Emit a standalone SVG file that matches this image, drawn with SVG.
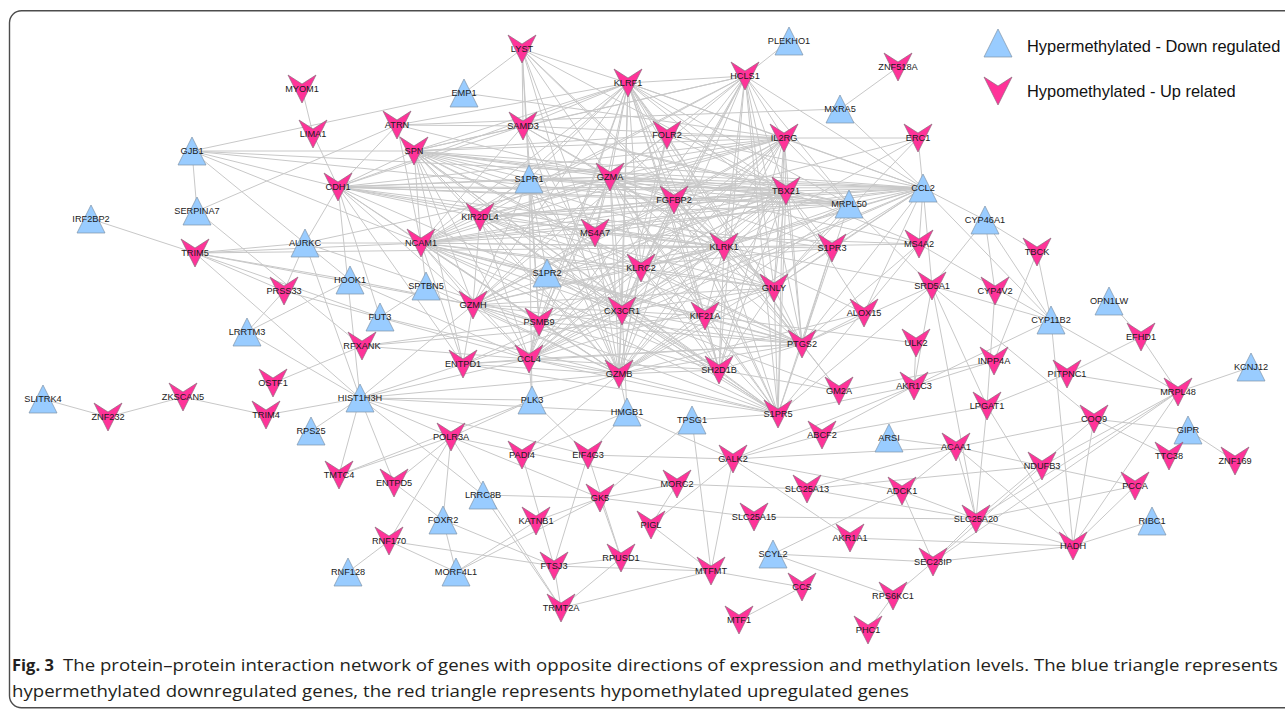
<svg xmlns="http://www.w3.org/2000/svg" width="1285" height="713" viewBox="0 0 1285 713">
<style>
.frame{fill:none;stroke:#4d4d4d;stroke-width:1.4}
#edges line{stroke:#c8c8c8;stroke-width:1;fill:none}
.hyper use{fill:#99CCFF;stroke:#7f93a8;stroke-width:.7}
.hypo use{fill:#FF3399;stroke:#8c6a7c;stroke-width:.7}
.lbl{font-family:"Liberation Sans",Arial,sans-serif;font-size:9.2px;text-anchor:middle;fill:#1a1a1a}
.leg{font-family:"Liberation Sans",Arial,sans-serif;font-size:16.4px;fill:#111}
.cap{font-family:"Open Sans","Liberation Sans",sans-serif;font-size:16.5px;fill:#231f20}
.capb{font-family:"Open Sans","Liberation Sans",sans-serif;font-size:16.5px;font-weight:bold;fill:#231f20}
</style>
<defs>
<polygon id="tri" points="0,-14 14,14 -14,14"/>
<polygon id="vee" points="-14,-14 0,-5 14,-14 0,14"/>
</defs>
<rect x="0" y="0" width="1285" height="713" fill="#ffffff"/>
<rect class="frame" x="9.5" y="10.7" width="1300" height="697" rx="12"/>
<g id="edges">
<line x1="628" y1="83" x2="745" y2="76"/><line x1="628" y1="83" x2="784" y2="138"/><line x1="628" y1="83" x2="786" y2="191"/><line x1="628" y1="83" x2="610" y2="177"/><line x1="628" y1="83" x2="674" y2="200"/><line x1="628" y1="83" x2="414" y2="151"/><line x1="628" y1="83" x2="421" y2="243"/><line x1="628" y1="83" x2="480" y2="217"/><line x1="628" y1="83" x2="724" y2="247"/><line x1="628" y1="83" x2="641" y2="268"/><line x1="628" y1="83" x2="774" y2="288"/><line x1="628" y1="83" x2="473" y2="305"/><line x1="628" y1="83" x2="622" y2="311"/><line x1="628" y1="83" x2="529" y2="359"/><line x1="628" y1="83" x2="619" y2="374"/><line x1="628" y1="83" x2="719" y2="370"/><line x1="628" y1="83" x2="802" y2="344"/><line x1="628" y1="83" x2="778" y2="414"/>
<line x1="745" y1="76" x2="784" y2="138"/><line x1="745" y1="76" x2="786" y2="191"/><line x1="745" y1="76" x2="610" y2="177"/><line x1="745" y1="76" x2="674" y2="200"/><line x1="745" y1="76" x2="414" y2="151"/><line x1="745" y1="76" x2="421" y2="243"/><line x1="745" y1="76" x2="480" y2="217"/><line x1="745" y1="76" x2="724" y2="247"/><line x1="745" y1="76" x2="641" y2="268"/><line x1="745" y1="76" x2="774" y2="288"/><line x1="745" y1="76" x2="473" y2="305"/><line x1="745" y1="76" x2="622" y2="311"/><line x1="745" y1="76" x2="529" y2="359"/><line x1="745" y1="76" x2="619" y2="374"/><line x1="745" y1="76" x2="719" y2="370"/><line x1="745" y1="76" x2="802" y2="344"/><line x1="745" y1="76" x2="778" y2="414"/>
<line x1="784" y1="138" x2="786" y2="191"/><line x1="784" y1="138" x2="610" y2="177"/><line x1="784" y1="138" x2="674" y2="200"/><line x1="784" y1="138" x2="414" y2="151"/><line x1="784" y1="138" x2="421" y2="243"/><line x1="784" y1="138" x2="480" y2="217"/><line x1="784" y1="138" x2="724" y2="247"/><line x1="784" y1="138" x2="641" y2="268"/><line x1="784" y1="138" x2="774" y2="288"/><line x1="784" y1="138" x2="473" y2="305"/><line x1="784" y1="138" x2="622" y2="311"/><line x1="784" y1="138" x2="529" y2="359"/><line x1="784" y1="138" x2="619" y2="374"/><line x1="784" y1="138" x2="719" y2="370"/><line x1="784" y1="138" x2="802" y2="344"/><line x1="784" y1="138" x2="778" y2="414"/>
<line x1="786" y1="191" x2="610" y2="177"/><line x1="786" y1="191" x2="674" y2="200"/><line x1="786" y1="191" x2="414" y2="151"/><line x1="786" y1="191" x2="421" y2="243"/><line x1="786" y1="191" x2="480" y2="217"/><line x1="786" y1="191" x2="724" y2="247"/><line x1="786" y1="191" x2="641" y2="268"/><line x1="786" y1="191" x2="774" y2="288"/><line x1="786" y1="191" x2="473" y2="305"/><line x1="786" y1="191" x2="622" y2="311"/><line x1="786" y1="191" x2="529" y2="359"/><line x1="786" y1="191" x2="619" y2="374"/><line x1="786" y1="191" x2="719" y2="370"/><line x1="786" y1="191" x2="802" y2="344"/><line x1="786" y1="191" x2="778" y2="414"/>
<line x1="610" y1="177" x2="674" y2="200"/><line x1="610" y1="177" x2="414" y2="151"/><line x1="610" y1="177" x2="421" y2="243"/><line x1="610" y1="177" x2="480" y2="217"/><line x1="610" y1="177" x2="724" y2="247"/><line x1="610" y1="177" x2="641" y2="268"/><line x1="610" y1="177" x2="774" y2="288"/><line x1="610" y1="177" x2="473" y2="305"/><line x1="610" y1="177" x2="622" y2="311"/><line x1="610" y1="177" x2="529" y2="359"/><line x1="610" y1="177" x2="619" y2="374"/><line x1="610" y1="177" x2="719" y2="370"/><line x1="610" y1="177" x2="802" y2="344"/><line x1="610" y1="177" x2="778" y2="414"/>
<line x1="674" y1="200" x2="414" y2="151"/><line x1="674" y1="200" x2="421" y2="243"/><line x1="674" y1="200" x2="480" y2="217"/><line x1="674" y1="200" x2="724" y2="247"/><line x1="674" y1="200" x2="641" y2="268"/><line x1="674" y1="200" x2="774" y2="288"/><line x1="674" y1="200" x2="473" y2="305"/><line x1="674" y1="200" x2="622" y2="311"/><line x1="674" y1="200" x2="529" y2="359"/><line x1="674" y1="200" x2="619" y2="374"/><line x1="674" y1="200" x2="719" y2="370"/><line x1="674" y1="200" x2="802" y2="344"/><line x1="674" y1="200" x2="778" y2="414"/>
<line x1="414" y1="151" x2="421" y2="243"/><line x1="414" y1="151" x2="480" y2="217"/><line x1="414" y1="151" x2="724" y2="247"/><line x1="414" y1="151" x2="641" y2="268"/><line x1="414" y1="151" x2="774" y2="288"/><line x1="414" y1="151" x2="473" y2="305"/><line x1="414" y1="151" x2="622" y2="311"/><line x1="414" y1="151" x2="529" y2="359"/><line x1="414" y1="151" x2="619" y2="374"/><line x1="414" y1="151" x2="719" y2="370"/><line x1="414" y1="151" x2="802" y2="344"/><line x1="414" y1="151" x2="778" y2="414"/>
<line x1="421" y1="243" x2="480" y2="217"/><line x1="421" y1="243" x2="724" y2="247"/><line x1="421" y1="243" x2="641" y2="268"/><line x1="421" y1="243" x2="774" y2="288"/><line x1="421" y1="243" x2="473" y2="305"/><line x1="421" y1="243" x2="622" y2="311"/><line x1="421" y1="243" x2="529" y2="359"/><line x1="421" y1="243" x2="619" y2="374"/><line x1="421" y1="243" x2="719" y2="370"/><line x1="421" y1="243" x2="802" y2="344"/><line x1="421" y1="243" x2="778" y2="414"/>
<line x1="480" y1="217" x2="724" y2="247"/><line x1="480" y1="217" x2="641" y2="268"/><line x1="480" y1="217" x2="774" y2="288"/><line x1="480" y1="217" x2="473" y2="305"/><line x1="480" y1="217" x2="622" y2="311"/><line x1="480" y1="217" x2="529" y2="359"/><line x1="480" y1="217" x2="619" y2="374"/><line x1="480" y1="217" x2="719" y2="370"/><line x1="480" y1="217" x2="802" y2="344"/><line x1="480" y1="217" x2="778" y2="414"/>
<line x1="724" y1="247" x2="641" y2="268"/><line x1="724" y1="247" x2="774" y2="288"/><line x1="724" y1="247" x2="473" y2="305"/><line x1="724" y1="247" x2="622" y2="311"/><line x1="724" y1="247" x2="529" y2="359"/><line x1="724" y1="247" x2="619" y2="374"/><line x1="724" y1="247" x2="719" y2="370"/><line x1="724" y1="247" x2="802" y2="344"/><line x1="724" y1="247" x2="778" y2="414"/>
<line x1="641" y1="268" x2="774" y2="288"/><line x1="641" y1="268" x2="473" y2="305"/><line x1="641" y1="268" x2="622" y2="311"/><line x1="641" y1="268" x2="529" y2="359"/><line x1="641" y1="268" x2="619" y2="374"/><line x1="641" y1="268" x2="719" y2="370"/><line x1="641" y1="268" x2="802" y2="344"/><line x1="641" y1="268" x2="778" y2="414"/>
<line x1="774" y1="288" x2="473" y2="305"/><line x1="774" y1="288" x2="622" y2="311"/><line x1="774" y1="288" x2="529" y2="359"/><line x1="774" y1="288" x2="619" y2="374"/><line x1="774" y1="288" x2="719" y2="370"/><line x1="774" y1="288" x2="802" y2="344"/><line x1="774" y1="288" x2="778" y2="414"/>
<line x1="473" y1="305" x2="622" y2="311"/><line x1="473" y1="305" x2="529" y2="359"/><line x1="473" y1="305" x2="619" y2="374"/><line x1="473" y1="305" x2="719" y2="370"/><line x1="473" y1="305" x2="802" y2="344"/><line x1="473" y1="305" x2="778" y2="414"/>
<line x1="622" y1="311" x2="529" y2="359"/><line x1="622" y1="311" x2="619" y2="374"/><line x1="622" y1="311" x2="719" y2="370"/><line x1="622" y1="311" x2="802" y2="344"/><line x1="622" y1="311" x2="778" y2="414"/>
<line x1="529" y1="359" x2="619" y2="374"/><line x1="529" y1="359" x2="719" y2="370"/><line x1="529" y1="359" x2="802" y2="344"/><line x1="529" y1="359" x2="778" y2="414"/>
<line x1="619" y1="374" x2="719" y2="370"/><line x1="619" y1="374" x2="802" y2="344"/><line x1="619" y1="374" x2="778" y2="414"/>
<line x1="719" y1="370" x2="802" y2="344"/><line x1="719" y1="370" x2="778" y2="414"/><line x1="802" y1="344" x2="778" y2="414"/>
<line x1="923" y1="188" x2="628" y2="83"/><line x1="923" y1="188" x2="745" y2="76"/><line x1="923" y1="188" x2="784" y2="138"/><line x1="923" y1="188" x2="786" y2="191"/><line x1="923" y1="188" x2="610" y2="177"/><line x1="923" y1="188" x2="674" y2="200"/><line x1="923" y1="188" x2="414" y2="151"/><line x1="923" y1="188" x2="421" y2="243"/><line x1="923" y1="188" x2="480" y2="217"/><line x1="923" y1="188" x2="724" y2="247"/><line x1="923" y1="188" x2="641" y2="268"/><line x1="923" y1="188" x2="774" y2="288"/><line x1="923" y1="188" x2="622" y2="311"/><line x1="923" y1="188" x2="529" y2="359"/><line x1="923" y1="188" x2="619" y2="374"/><line x1="923" y1="188" x2="802" y2="344"/><line x1="923" y1="188" x2="529" y2="179"/><line x1="923" y1="188" x2="338" y2="187"/><line x1="923" y1="188" x2="667" y2="135"/><line x1="923" y1="188" x2="849" y2="204"/><line x1="923" y1="188" x2="918" y2="138"/><line x1="923" y1="188" x2="985" y2="220"/><line x1="923" y1="188" x2="1051" y2="320"/><line x1="923" y1="188" x2="919" y2="244"/><line x1="923" y1="188" x2="832" y2="248"/><line x1="923" y1="188" x2="840" y2="109"/><line x1="923" y1="188" x2="864" y2="313"/><line x1="923" y1="188" x2="932" y2="286"/><line x1="923" y1="188" x2="595" y2="233"/>
<line x1="849" y1="204" x2="628" y2="83"/><line x1="849" y1="204" x2="745" y2="76"/><line x1="849" y1="204" x2="784" y2="138"/><line x1="849" y1="204" x2="786" y2="191"/><line x1="849" y1="204" x2="610" y2="177"/><line x1="849" y1="204" x2="674" y2="200"/><line x1="849" y1="204" x2="414" y2="151"/><line x1="849" y1="204" x2="421" y2="243"/><line x1="849" y1="204" x2="480" y2="217"/><line x1="849" y1="204" x2="724" y2="247"/><line x1="849" y1="204" x2="622" y2="311"/><line x1="849" y1="204" x2="619" y2="374"/><line x1="849" y1="204" x2="338" y2="187"/><line x1="849" y1="204" x2="529" y2="179"/><line x1="849" y1="204" x2="523" y2="126"/><line x1="849" y1="204" x2="774" y2="288"/><line x1="849" y1="204" x2="802" y2="344"/>
<line x1="338" y1="187" x2="414" y2="151"/><line x1="338" y1="187" x2="421" y2="243"/><line x1="338" y1="187" x2="610" y2="177"/><line x1="338" y1="187" x2="529" y2="179"/><line x1="338" y1="187" x2="786" y2="191"/><line x1="338" y1="187" x2="784" y2="138"/><line x1="338" y1="187" x2="480" y2="217"/><line x1="338" y1="187" x2="674" y2="200"/><line x1="338" y1="187" x2="724" y2="247"/><line x1="338" y1="187" x2="595" y2="233"/><line x1="338" y1="187" x2="622" y2="311"/><line x1="338" y1="187" x2="360" y2="398"/><line x1="338" y1="187" x2="305" y2="243"/><line x1="338" y1="187" x2="380" y2="317"/><line x1="338" y1="187" x2="619" y2="374"/><line x1="338" y1="187" x2="463" y2="364"/><line x1="338" y1="187" x2="473" y2="305"/><line x1="338" y1="187" x2="313" y2="134"/><line x1="338" y1="187" x2="397" y2="125"/><line x1="338" y1="187" x2="192" y2="151"/><line x1="338" y1="187" x2="628" y2="83"/><line x1="338" y1="187" x2="832" y2="248"/><line x1="338" y1="187" x2="523" y2="126"/>
<line x1="522" y1="49" x2="464" y2="93"/><line x1="522" y1="49" x2="523" y2="126"/><line x1="522" y1="49" x2="628" y2="83"/><line x1="522" y1="49" x2="610" y2="177"/><line x1="522" y1="49" x2="622" y2="311"/><line x1="522" y1="49" x2="619" y2="374"/><line x1="522" y1="49" x2="724" y2="247"/><line x1="522" y1="49" x2="539" y2="322"/><line x1="522" y1="49" x2="774" y2="288"/><line x1="522" y1="49" x2="786" y2="191"/><line x1="522" y1="49" x2="529" y2="179"/>
<line x1="523" y1="126" x2="397" y2="125"/><line x1="523" y1="126" x2="414" y2="151"/><line x1="523" y1="126" x2="628" y2="83"/><line x1="523" y1="126" x2="610" y2="177"/><line x1="523" y1="126" x2="786" y2="191"/><line x1="523" y1="126" x2="622" y2="311"/><line x1="523" y1="126" x2="619" y2="374"/><line x1="523" y1="126" x2="784" y2="138"/><line x1="523" y1="126" x2="421" y2="243"/><line x1="523" y1="126" x2="724" y2="247"/><line x1="523" y1="126" x2="745" y2="76"/>
<line x1="529" y1="179" x2="610" y2="177"/><line x1="529" y1="179" x2="547" y2="273"/><line x1="529" y1="179" x2="622" y2="311"/><line x1="529" y1="179" x2="786" y2="191"/><line x1="529" y1="179" x2="619" y2="374"/><line x1="529" y1="179" x2="539" y2="322"/><line x1="529" y1="179" x2="421" y2="243"/><line x1="529" y1="179" x2="414" y2="151"/><line x1="529" y1="179" x2="532" y2="400"/><line x1="529" y1="179" x2="628" y2="83"/><line x1="529" y1="179" x2="473" y2="305"/><line x1="529" y1="179" x2="784" y2="138"/>
<line x1="547" y1="273" x2="832" y2="248"/><line x1="547" y1="273" x2="778" y2="414"/><line x1="547" y1="273" x2="622" y2="311"/><line x1="547" y1="273" x2="421" y2="243"/><line x1="547" y1="273" x2="619" y2="374"/><line x1="547" y1="273" x2="802" y2="344"/><line x1="547" y1="273" x2="529" y2="359"/><line x1="547" y1="273" x2="724" y2="247"/><line x1="547" y1="273" x2="786" y2="191"/>
<line x1="595" y1="233" x2="610" y2="177"/><line x1="595" y1="233" x2="622" y2="311"/><line x1="595" y1="233" x2="724" y2="247"/><line x1="595" y1="233" x2="919" y2="244"/><line x1="595" y1="233" x2="786" y2="191"/><line x1="595" y1="233" x2="421" y2="243"/><line x1="595" y1="233" x2="619" y2="374"/><line x1="595" y1="233" x2="628" y2="83"/><line x1="595" y1="233" x2="473" y2="305"/>
<line x1="539" y1="322" x2="610" y2="177"/><line x1="539" y1="322" x2="529" y2="359"/><line x1="539" y1="322" x2="619" y2="374"/><line x1="539" y1="322" x2="622" y2="311"/><line x1="539" y1="322" x2="421" y2="243"/><line x1="539" y1="322" x2="802" y2="344"/><line x1="539" y1="322" x2="786" y2="191"/><line x1="539" y1="322" x2="784" y2="138"/><line x1="539" y1="322" x2="628" y2="83"/><line x1="539" y1="322" x2="473" y2="305"/>
<line x1="705" y1="316" x2="619" y2="374"/><line x1="705" y1="316" x2="622" y2="311"/><line x1="705" y1="316" x2="628" y2="83"/><line x1="705" y1="316" x2="421" y2="243"/><line x1="705" y1="316" x2="786" y2="191"/><line x1="705" y1="316" x2="719" y2="370"/><line x1="705" y1="316" x2="778" y2="414"/><line x1="705" y1="316" x2="610" y2="177"/><line x1="705" y1="316" x2="724" y2="247"/><line x1="705" y1="316" x2="916" y2="343"/>
<line x1="667" y1="135" x2="610" y2="177"/><line x1="667" y1="135" x2="786" y2="191"/><line x1="667" y1="135" x2="619" y2="374"/><line x1="667" y1="135" x2="622" y2="311"/><line x1="667" y1="135" x2="414" y2="151"/><line x1="667" y1="135" x2="802" y2="344"/><line x1="667" y1="135" x2="628" y2="83"/><line x1="667" y1="135" x2="784" y2="138"/>
<line x1="397" y1="125" x2="197" y2="211"/><line x1="397" y1="125" x2="840" y2="109"/><line x1="397" y1="125" x2="610" y2="177"/><line x1="397" y1="125" x2="628" y2="83"/><line x1="397" y1="125" x2="421" y2="243"/>
<line x1="464" y1="93" x2="192" y2="151"/><line x1="464" y1="93" x2="784" y2="138"/>
<line x1="463" y1="364" x2="421" y2="243"/><line x1="463" y1="364" x2="473" y2="305"/><line x1="463" y1="364" x2="529" y2="359"/><line x1="463" y1="364" x2="619" y2="374"/><line x1="463" y1="364" x2="622" y2="311"/><line x1="463" y1="364" x2="414" y2="151"/><line x1="463" y1="364" x2="802" y2="344"/><line x1="463" y1="364" x2="778" y2="414"/><line x1="463" y1="364" x2="360" y2="398"/><line x1="463" y1="364" x2="724" y2="247"/>
<line x1="832" y1="248" x2="778" y2="414"/><line x1="832" y1="248" x2="802" y2="344"/><line x1="832" y1="248" x2="774" y2="288"/><line x1="832" y1="248" x2="421" y2="243"/><line x1="832" y1="248" x2="786" y2="191"/><line x1="832" y1="248" x2="628" y2="83"/><line x1="832" y1="248" x2="610" y2="177"/>
<line x1="919" y1="244" x2="1051" y2="320"/><line x1="919" y1="244" x2="610" y2="177"/><line x1="919" y1="244" x2="786" y2="191"/><line x1="919" y1="244" x2="724" y2="247"/><line x1="919" y1="244" x2="778" y2="414"/><line x1="919" y1="244" x2="802" y2="344"/>
<line x1="932" y1="286" x2="1051" y2="320"/><line x1="932" y1="286" x2="987" y2="406"/><line x1="932" y1="286" x2="914" y2="386"/><line x1="932" y1="286" x2="985" y2="220"/><line x1="932" y1="286" x2="976" y2="519"/><line x1="932" y1="286" x2="1094" y2="419"/><line x1="932" y1="286" x2="802" y2="344"/><line x1="932" y1="286" x2="849" y2="204"/><line x1="932" y1="286" x2="724" y2="247"/><line x1="932" y1="286" x2="778" y2="414"/>
<line x1="864" y1="313" x2="802" y2="344"/><line x1="864" y1="313" x2="619" y2="374"/><line x1="864" y1="313" x2="724" y2="247"/><line x1="864" y1="313" x2="786" y2="191"/>
<line x1="839" y1="391" x2="802" y2="344"/><line x1="839" y1="391" x2="994" y2="361"/><line x1="839" y1="391" x2="724" y2="247"/><line x1="839" y1="391" x2="719" y2="370"/><line x1="839" y1="391" x2="622" y2="311"/>
<line x1="918" y1="138" x2="674" y2="200"/><line x1="918" y1="138" x2="724" y2="247"/><line x1="918" y1="138" x2="774" y2="288"/><line x1="918" y1="138" x2="784" y2="138"/>
<line x1="898" y1="67" x2="840" y2="109"/><line x1="789" y1="41" x2="745" y2="76"/>
<line x1="192" y1="151" x2="197" y2="211"/><line x1="192" y1="151" x2="414" y2="151"/><line x1="192" y1="151" x2="350" y2="280"/><line x1="192" y1="151" x2="923" y2="188"/><line x1="192" y1="151" x2="674" y2="200"/><line x1="192" y1="151" x2="421" y2="243"/>
<line x1="302" y1="89" x2="313" y2="134"/><line x1="197" y1="211" x2="362" y2="346"/><line x1="91" y1="219" x2="195" y2="253"/>
<line x1="195" y1="253" x2="305" y2="243"/><line x1="195" y1="253" x2="421" y2="243"/><line x1="195" y1="253" x2="350" y2="280"/><line x1="195" y1="253" x2="380" y2="317"/><line x1="195" y1="253" x2="360" y2="398"/><line x1="195" y1="253" x2="284" y2="291"/><line x1="195" y1="253" x2="473" y2="305"/><line x1="195" y1="253" x2="724" y2="247"/>
<line x1="284" y1="291" x2="305" y2="243"/><line x1="284" y1="291" x2="247" y2="332"/><line x1="284" y1="291" x2="529" y2="359"/>
<line x1="247" y1="332" x2="350" y2="280"/><line x1="247" y1="332" x2="360" y2="398"/><line x1="273" y1="383" x2="362" y2="346"/>
<line x1="43" y1="399" x2="108" y2="417"/><line x1="108" y1="417" x2="183" y2="397"/><line x1="183" y1="397" x2="266" y2="415"/><line x1="266" y1="415" x2="360" y2="398"/>
<line x1="360" y1="398" x2="311" y2="431"/><line x1="360" y1="398" x2="339" y2="475"/><line x1="360" y1="398" x2="394" y2="483"/><line x1="360" y1="398" x2="451" y2="437"/><line x1="360" y1="398" x2="483" y2="495"/><line x1="360" y1="398" x2="619" y2="374"/><line x1="360" y1="398" x2="529" y2="359"/><line x1="360" y1="398" x2="532" y2="400"/><line x1="360" y1="398" x2="627" y2="412"/><line x1="360" y1="398" x2="588" y2="455"/><line x1="360" y1="398" x2="473" y2="305"/>
<line x1="305" y1="243" x2="421" y2="243"/><line x1="305" y1="243" x2="360" y2="398"/><line x1="305" y1="243" x2="610" y2="177"/><line x1="305" y1="243" x2="539" y2="322"/>
<line x1="350" y1="280" x2="529" y2="359"/><line x1="350" y1="280" x2="473" y2="305"/>
<line x1="380" y1="317" x2="426" y2="286"/><line x1="380" y1="317" x2="619" y2="374"/>
<line x1="426" y1="286" x2="421" y2="243"/><line x1="426" y1="286" x2="619" y2="374"/>
<line x1="362" y1="346" x2="539" y2="322"/><line x1="362" y1="346" x2="529" y2="359"/><line x1="362" y1="346" x2="705" y2="316"/>
<line x1="339" y1="475" x2="451" y2="437"/><line x1="339" y1="475" x2="532" y2="400"/>
<line x1="394" y1="483" x2="451" y2="437"/><line x1="394" y1="483" x2="443" y2="520"/>
<line x1="389" y1="541" x2="348" y2="572"/><line x1="389" y1="541" x2="451" y2="437"/><line x1="389" y1="541" x2="554" y2="566"/><line x1="389" y1="541" x2="456" y2="572"/>
<line x1="451" y1="437" x2="443" y2="520"/><line x1="451" y1="437" x2="600" y2="498"/><line x1="451" y1="437" x2="677" y2="484"/><line x1="451" y1="437" x2="561" y2="608"/><line x1="451" y1="437" x2="532" y2="400"/>
<line x1="443" y1="520" x2="456" y2="572"/><line x1="443" y1="520" x2="554" y2="566"/>
<line x1="456" y1="572" x2="536" y2="521"/><line x1="456" y1="572" x2="600" y2="498"/>
<line x1="483" y1="495" x2="600" y2="498"/><line x1="483" y1="495" x2="561" y2="608"/>
<line x1="536" y1="521" x2="600" y2="498"/>
<line x1="522" y1="455" x2="554" y2="566"/><line x1="522" y1="455" x2="619" y2="374"/><line x1="522" y1="455" x2="627" y2="412"/>
<line x1="588" y1="455" x2="627" y2="412"/><line x1="588" y1="455" x2="554" y2="566"/><line x1="588" y1="455" x2="621" y2="558"/><line x1="588" y1="455" x2="733" y2="459"/><line x1="588" y1="455" x2="532" y2="400"/>
<line x1="627" y1="412" x2="619" y2="374"/><line x1="627" y1="412" x2="622" y2="311"/><line x1="627" y1="412" x2="733" y2="459"/>
<line x1="692" y1="420" x2="711" y2="571"/><line x1="692" y1="420" x2="600" y2="498"/><line x1="692" y1="420" x2="778" y2="414"/>
<line x1="532" y1="400" x2="529" y2="359"/><line x1="532" y1="400" x2="619" y2="374"/>
<line x1="600" y1="498" x2="621" y2="558"/><line x1="600" y1="498" x2="677" y2="484"/><line x1="600" y1="498" x2="754" y2="517"/>
<line x1="677" y1="484" x2="807" y2="489"/><line x1="677" y1="484" x2="651" y2="525"/>
<line x1="651" y1="525" x2="733" y2="459"/><line x1="651" y1="525" x2="711" y2="571"/>
<line x1="554" y1="566" x2="621" y2="558"/><line x1="554" y1="566" x2="561" y2="608"/><line x1="554" y1="566" x2="711" y2="571"/>
<line x1="621" y1="558" x2="561" y2="608"/><line x1="621" y1="558" x2="711" y2="571"/><line x1="561" y1="608" x2="711" y2="571"/>
<line x1="711" y1="571" x2="733" y2="459"/><line x1="711" y1="571" x2="802" y2="587"/><line x1="802" y1="587" x2="739" y2="620"/>
<line x1="733" y1="459" x2="850" y2="538"/><line x1="733" y1="459" x2="956" y2="447"/><line x1="733" y1="459" x2="914" y2="386"/><line x1="733" y1="459" x2="902" y2="491"/><line x1="733" y1="459" x2="822" y2="435"/>
<line x1="822" y1="435" x2="987" y2="406"/><line x1="822" y1="435" x2="914" y2="386"/>
<line x1="754" y1="517" x2="976" y2="519"/>
<line x1="807" y1="489" x2="976" y2="519"/><line x1="807" y1="489" x2="1042" y2="466"/><line x1="807" y1="489" x2="956" y2="447"/>
<line x1="773" y1="554" x2="902" y2="491"/><line x1="773" y1="554" x2="933" y2="562"/><line x1="773" y1="554" x2="893" y2="596"/>
<line x1="850" y1="538" x2="1073" y2="546"/>
<line x1="902" y1="491" x2="956" y2="447"/><line x1="902" y1="491" x2="933" y2="562"/><line x1="902" y1="491" x2="976" y2="519"/>
<line x1="889" y1="438" x2="956" y2="447"/>
<line x1="956" y1="447" x2="1094" y2="419"/><line x1="956" y1="447" x2="1042" y2="466"/><line x1="956" y1="447" x2="1073" y2="546"/><line x1="956" y1="447" x2="976" y2="519"/>
<line x1="987" y1="406" x2="995" y2="291"/><line x1="987" y1="406" x2="1073" y2="546"/><line x1="987" y1="406" x2="976" y2="519"/><line x1="987" y1="406" x2="1067" y2="374"/>
<line x1="1094" y1="419" x2="1073" y2="546"/><line x1="1094" y1="419" x2="1188" y2="430"/><line x1="1094" y1="419" x2="1169" y2="456"/><line x1="1094" y1="419" x2="976" y2="519"/>
<line x1="1042" y1="466" x2="1135" y2="486"/><line x1="1042" y1="466" x2="1178" y2="392"/><line x1="1042" y1="466" x2="933" y2="562"/>
<line x1="1135" y1="486" x2="1073" y2="546"/><line x1="1135" y1="486" x2="976" y2="519"/>
<line x1="1073" y1="546" x2="1152" y2="521"/><line x1="1073" y1="546" x2="976" y2="519"/><line x1="1073" y1="546" x2="933" y2="562"/><line x1="1073" y1="546" x2="1051" y2="320"/><line x1="1073" y1="546" x2="1178" y2="392"/>
<line x1="933" y1="562" x2="893" y2="596"/><line x1="933" y1="562" x2="976" y2="519"/><line x1="933" y1="562" x2="1178" y2="392"/>
<line x1="893" y1="596" x2="868" y2="630"/>
<line x1="1178" y1="392" x2="1251" y2="367"/><line x1="1178" y1="392" x2="1051" y2="320"/><line x1="1178" y1="392" x2="1141" y2="337"/><line x1="1178" y1="392" x2="1067" y2="374"/><line x1="1178" y1="392" x2="976" y2="519"/>
<line x1="1188" y1="430" x2="1235" y2="461"/><line x1="1109" y1="301" x2="1141" y2="337"/><line x1="1141" y1="337" x2="1067" y2="374"/>
<line x1="985" y1="220" x2="1037" y2="252"/><line x1="985" y1="220" x2="995" y2="291"/><line x1="985" y1="220" x2="1051" y2="320"/>
<line x1="1037" y1="252" x2="1051" y2="320"/><line x1="1037" y1="252" x2="994" y2="361"/>
<line x1="1051" y1="320" x2="914" y2="386"/><line x1="916" y1="343" x2="914" y2="386"/><line x1="994" y1="361" x2="914" y2="386"/><line x1="914" y1="386" x2="778" y2="414"/>
</g>
<g id="nodes">
<g id="n-PLEKHO1" class="hyper" transform="translate(789,41)"><use href="#tri"/><text class="lbl" y="3.2">PLEKHO1</text></g>
<g id="n-EMP1" class="hyper" transform="translate(464,93)"><use href="#tri"/><text class="lbl" y="3.2">EMP1</text></g>
<g id="n-MXRA5" class="hyper" transform="translate(840,109)"><use href="#tri"/><text class="lbl" y="3.2">MXRA5</text></g>
<g id="n-GJB1" class="hyper" transform="translate(192,151)"><use href="#tri"/><text class="lbl" y="3.2">GJB1</text></g>
<g id="n-S1PR1" class="hyper" transform="translate(529,179)"><use href="#tri"/><text class="lbl" y="3.2">S1PR1</text></g>
<g id="n-CCL2" class="hyper" transform="translate(923,188)"><use href="#tri"/><text class="lbl" y="3.2">CCL2</text></g>
<g id="n-MRPL50" class="hyper" transform="translate(849,204)"><use href="#tri"/><text class="lbl" y="3.2">MRPL50</text></g>
<g id="n-SERPINA7" class="hyper" transform="translate(197,211)"><use href="#tri"/><text class="lbl" y="3.2">SERPINA7</text></g>
<g id="n-IRF2BP2" class="hyper" transform="translate(91,219)"><use href="#tri"/><text class="lbl" y="3.2">IRF2BP2</text></g>
<g id="n-CYP46A1" class="hyper" transform="translate(985,220)"><use href="#tri"/><text class="lbl" y="3.2">CYP46A1</text></g>
<g id="n-AURKC" class="hyper" transform="translate(305,243)"><use href="#tri"/><text class="lbl" y="3.2">AURKC</text></g>
<g id="n-S1PR2" class="hyper" transform="translate(547,273)"><use href="#tri"/><text class="lbl" y="3.2">S1PR2</text></g>
<g id="n-HOOK1" class="hyper" transform="translate(350,280)"><use href="#tri"/><text class="lbl" y="3.2">HOOK1</text></g>
<g id="n-SPTBN5" class="hyper" transform="translate(426,286)"><use href="#tri"/><text class="lbl" y="3.2">SPTBN5</text></g>
<g id="n-OPN1LW" class="hyper" transform="translate(1109,301)"><use href="#tri"/><text class="lbl" y="3.2">OPN1LW</text></g>
<g id="n-FUT3" class="hyper" transform="translate(380,317)"><use href="#tri"/><text class="lbl" y="3.2">FUT3</text></g>
<g id="n-CYP11B2" class="hyper" transform="translate(1051,320)"><use href="#tri"/><text class="lbl" y="3.2">CYP11B2</text></g>
<g id="n-LRRTM3" class="hyper" transform="translate(247,332)"><use href="#tri"/><text class="lbl" y="3.2">LRRTM3</text></g>
<g id="n-KCNJ12" class="hyper" transform="translate(1251,367)"><use href="#tri"/><text class="lbl" y="3.2">KCNJ12</text></g>
<g id="n-SLITRK4" class="hyper" transform="translate(43,399)"><use href="#tri"/><text class="lbl" y="3.2">SLITRK4</text></g>
<g id="n-HIST1H3H" class="hyper" transform="translate(360,398)"><use href="#tri"/><text class="lbl" y="3.2">HIST1H3H</text></g>
<g id="n-PLK3" class="hyper" transform="translate(532,400)"><use href="#tri"/><text class="lbl" y="3.2">PLK3</text></g>
<g id="n-HMGB1" class="hyper" transform="translate(627,412)"><use href="#tri"/><text class="lbl" y="3.2">HMGB1</text></g>
<g id="n-TPSG1" class="hyper" transform="translate(692,420)"><use href="#tri"/><text class="lbl" y="3.2">TPSG1</text></g>
<g id="n-RPS25" class="hyper" transform="translate(311,431)"><use href="#tri"/><text class="lbl" y="3.2">RPS25</text></g>
<g id="n-GIPR" class="hyper" transform="translate(1188,430)"><use href="#tri"/><text class="lbl" y="3.2">GIPR</text></g>
<g id="n-ARSI" class="hyper" transform="translate(889,438)"><use href="#tri"/><text class="lbl" y="3.2">ARSI</text></g>
<g id="n-LRRC8B" class="hyper" transform="translate(483,495)"><use href="#tri"/><text class="lbl" y="3.2">LRRC8B</text></g>
<g id="n-FOXR2" class="hyper" transform="translate(443,520)"><use href="#tri"/><text class="lbl" y="3.2">FOXR2</text></g>
<g id="n-RIBC1" class="hyper" transform="translate(1152,521)"><use href="#tri"/><text class="lbl" y="3.2">RIBC1</text></g>
<g id="n-SCYL2" class="hyper" transform="translate(773,554)"><use href="#tri"/><text class="lbl" y="3.2">SCYL2</text></g>
<g id="n-RNF128" class="hyper" transform="translate(348,572)"><use href="#tri"/><text class="lbl" y="3.2">RNF128</text></g>
<g id="n-MORF4L1" class="hyper" transform="translate(456,572)"><use href="#tri"/><text class="lbl" y="3.2">MORF4L1</text></g>
<g id="n-LYST" class="hypo" transform="translate(522,49)"><use href="#vee"/><text class="lbl" y="3.2">LYST</text></g>
<g id="n-ZNF518A" class="hypo" transform="translate(898,67)"><use href="#vee"/><text class="lbl" y="3.2">ZNF518A</text></g>
<g id="n-HCLS1" class="hypo" transform="translate(745,76)"><use href="#vee"/><text class="lbl" y="3.2">HCLS1</text></g>
<g id="n-KLRF1" class="hypo" transform="translate(628,83)"><use href="#vee"/><text class="lbl" y="3.2">KLRF1</text></g>
<g id="n-MYOM1" class="hypo" transform="translate(302,89)"><use href="#vee"/><text class="lbl" y="3.2">MYOM1</text></g>
<g id="n-ATRN" class="hypo" transform="translate(397,125)"><use href="#vee"/><text class="lbl" y="3.2">ATRN</text></g>
<g id="n-SAMD3" class="hypo" transform="translate(523,126)"><use href="#vee"/><text class="lbl" y="3.2">SAMD3</text></g>
<g id="n-LIMA1" class="hypo" transform="translate(313,134)"><use href="#vee"/><text class="lbl" y="3.2">LIMA1</text></g>
<g id="n-FOLR2" class="hypo" transform="translate(667,135)"><use href="#vee"/><text class="lbl" y="3.2">FOLR2</text></g>
<g id="n-IL2RG" class="hypo" transform="translate(784,138)"><use href="#vee"/><text class="lbl" y="3.2">IL2RG</text></g>
<g id="n-ERC1" class="hypo" transform="translate(918,138)"><use href="#vee"/><text class="lbl" y="3.2">ERC1</text></g>
<g id="n-SPN" class="hypo" transform="translate(414,151)"><use href="#vee"/><text class="lbl" y="3.2">SPN</text></g>
<g id="n-GZMA" class="hypo" transform="translate(610,177)"><use href="#vee"/><text class="lbl" y="3.2">GZMA</text></g>
<g id="n-CDH1" class="hypo" transform="translate(338,187)"><use href="#vee"/><text class="lbl" y="3.2">CDH1</text></g>
<g id="n-TBX21" class="hypo" transform="translate(786,191)"><use href="#vee"/><text class="lbl" y="3.2">TBX21</text></g>
<g id="n-FGFBP2" class="hypo" transform="translate(674,200)"><use href="#vee"/><text class="lbl" y="3.2">FGFBP2</text></g>
<g id="n-KIR2DL4" class="hypo" transform="translate(480,217)"><use href="#vee"/><text class="lbl" y="3.2">KIR2DL4</text></g>
<g id="n-MS4A7" class="hypo" transform="translate(595,233)"><use href="#vee"/><text class="lbl" y="3.2">MS4A7</text></g>
<g id="n-NCAM1" class="hypo" transform="translate(421,243)"><use href="#vee"/><text class="lbl" y="3.2">NCAM1</text></g>
<g id="n-MS4A2" class="hypo" transform="translate(919,244)"><use href="#vee"/><text class="lbl" y="3.2">MS4A2</text></g>
<g id="n-KLRK1" class="hypo" transform="translate(724,247)"><use href="#vee"/><text class="lbl" y="3.2">KLRK1</text></g>
<g id="n-S1PR3" class="hypo" transform="translate(832,248)"><use href="#vee"/><text class="lbl" y="3.2">S1PR3</text></g>
<g id="n-TBCK" class="hypo" transform="translate(1037,252)"><use href="#vee"/><text class="lbl" y="3.2">TBCK</text></g>
<g id="n-TRIM5" class="hypo" transform="translate(195,253)"><use href="#vee"/><text class="lbl" y="3.2">TRIM5</text></g>
<g id="n-KLRC2" class="hypo" transform="translate(641,268)"><use href="#vee"/><text class="lbl" y="3.2">KLRC2</text></g>
<g id="n-SRD5A1" class="hypo" transform="translate(932,286)"><use href="#vee"/><text class="lbl" y="3.2">SRD5A1</text></g>
<g id="n-GNLY" class="hypo" transform="translate(774,288)"><use href="#vee"/><text class="lbl" y="3.2">GNLY</text></g>
<g id="n-PRSS33" class="hypo" transform="translate(284,291)"><use href="#vee"/><text class="lbl" y="3.2">PRSS33</text></g>
<g id="n-CYP4V2" class="hypo" transform="translate(995,291)"><use href="#vee"/><text class="lbl" y="3.2">CYP4V2</text></g>
<g id="n-GZMH" class="hypo" transform="translate(473,305)"><use href="#vee"/><text class="lbl" y="3.2">GZMH</text></g>
<g id="n-CX3CR1" class="hypo" transform="translate(622,311)"><use href="#vee"/><text class="lbl" y="3.2">CX3CR1</text></g>
<g id="n-ALOX15" class="hypo" transform="translate(864,313)"><use href="#vee"/><text class="lbl" y="3.2">ALOX15</text></g>
<g id="n-KIF21A" class="hypo" transform="translate(705,316)"><use href="#vee"/><text class="lbl" y="3.2">KIF21A</text></g>
<g id="n-PSMB9" class="hypo" transform="translate(539,322)"><use href="#vee"/><text class="lbl" y="3.2">PSMB9</text></g>
<g id="n-EFHD1" class="hypo" transform="translate(1141,337)"><use href="#vee"/><text class="lbl" y="3.2">EFHD1</text></g>
<g id="n-ULK2" class="hypo" transform="translate(916,343)"><use href="#vee"/><text class="lbl" y="3.2">ULK2</text></g>
<g id="n-PTGS2" class="hypo" transform="translate(802,344)"><use href="#vee"/><text class="lbl" y="3.2">PTGS2</text></g>
<g id="n-RFXANK" class="hypo" transform="translate(362,346)"><use href="#vee"/><text class="lbl" y="3.2">RFXANK</text></g>
<g id="n-CCL4" class="hypo" transform="translate(529,359)"><use href="#vee"/><text class="lbl" y="3.2">CCL4</text></g>
<g id="n-INPP4A" class="hypo" transform="translate(994,361)"><use href="#vee"/><text class="lbl" y="3.2">INPP4A</text></g>
<g id="n-ENTPD1" class="hypo" transform="translate(463,364)"><use href="#vee"/><text class="lbl" y="3.2">ENTPD1</text></g>
<g id="n-SH2D1B" class="hypo" transform="translate(719,370)"><use href="#vee"/><text class="lbl" y="3.2">SH2D1B</text></g>
<g id="n-GZMB" class="hypo" transform="translate(619,374)"><use href="#vee"/><text class="lbl" y="3.2">GZMB</text></g>
<g id="n-PITPNC1" class="hypo" transform="translate(1067,374)"><use href="#vee"/><text class="lbl" y="3.2">PITPNC1</text></g>
<g id="n-OSTF1" class="hypo" transform="translate(273,383)"><use href="#vee"/><text class="lbl" y="3.2">OSTF1</text></g>
<g id="n-AKR1C3" class="hypo" transform="translate(914,386)"><use href="#vee"/><text class="lbl" y="3.2">AKR1C3</text></g>
<g id="n-GM2A" class="hypo" transform="translate(839,391)"><use href="#vee"/><text class="lbl" y="3.2">GM2A</text></g>
<g id="n-MRPL48" class="hypo" transform="translate(1178,392)"><use href="#vee"/><text class="lbl" y="3.2">MRPL48</text></g>
<g id="n-ZKSCAN5" class="hypo" transform="translate(183,397)"><use href="#vee"/><text class="lbl" y="3.2">ZKSCAN5</text></g>
<g id="n-LPGAT1" class="hypo" transform="translate(987,406)"><use href="#vee"/><text class="lbl" y="3.2">LPGAT1</text></g>
<g id="n-S1PR5" class="hypo" transform="translate(778,414)"><use href="#vee"/><text class="lbl" y="3.2">S1PR5</text></g>
<g id="n-TRIM4" class="hypo" transform="translate(266,415)"><use href="#vee"/><text class="lbl" y="3.2">TRIM4</text></g>
<g id="n-ZNF232" class="hypo" transform="translate(108,417)"><use href="#vee"/><text class="lbl" y="3.2">ZNF232</text></g>
<g id="n-COQ9" class="hypo" transform="translate(1094,419)"><use href="#vee"/><text class="lbl" y="3.2">COQ9</text></g>
<g id="n-ABCF2" class="hypo" transform="translate(822,435)"><use href="#vee"/><text class="lbl" y="3.2">ABCF2</text></g>
<g id="n-POLR3A" class="hypo" transform="translate(451,437)"><use href="#vee"/><text class="lbl" y="3.2">POLR3A</text></g>
<g id="n-ACAA1" class="hypo" transform="translate(956,447)"><use href="#vee"/><text class="lbl" y="3.2">ACAA1</text></g>
<g id="n-PADI4" class="hypo" transform="translate(522,455)"><use href="#vee"/><text class="lbl" y="3.2">PADI4</text></g>
<g id="n-EIF4G3" class="hypo" transform="translate(588,455)"><use href="#vee"/><text class="lbl" y="3.2">EIF4G3</text></g>
<g id="n-TTC38" class="hypo" transform="translate(1169,456)"><use href="#vee"/><text class="lbl" y="3.2">TTC38</text></g>
<g id="n-GALK2" class="hypo" transform="translate(733,459)"><use href="#vee"/><text class="lbl" y="3.2">GALK2</text></g>
<g id="n-ZNF169" class="hypo" transform="translate(1235,461)"><use href="#vee"/><text class="lbl" y="3.2">ZNF169</text></g>
<g id="n-NDUFB3" class="hypo" transform="translate(1042,466)"><use href="#vee"/><text class="lbl" y="3.2">NDUFB3</text></g>
<g id="n-TMTC4" class="hypo" transform="translate(339,475)"><use href="#vee"/><text class="lbl" y="3.2">TMTC4</text></g>
<g id="n-ENTPD5" class="hypo" transform="translate(394,483)"><use href="#vee"/><text class="lbl" y="3.2">ENTPD5</text></g>
<g id="n-MORC2" class="hypo" transform="translate(677,484)"><use href="#vee"/><text class="lbl" y="3.2">MORC2</text></g>
<g id="n-PCCA" class="hypo" transform="translate(1135,486)"><use href="#vee"/><text class="lbl" y="3.2">PCCA</text></g>
<g id="n-SLC25A13" class="hypo" transform="translate(807,489)"><use href="#vee"/><text class="lbl" y="3.2">SLC25A13</text></g>
<g id="n-ADCK1" class="hypo" transform="translate(902,491)"><use href="#vee"/><text class="lbl" y="3.2">ADCK1</text></g>
<g id="n-GK5" class="hypo" transform="translate(600,498)"><use href="#vee"/><text class="lbl" y="3.2">GK5</text></g>
<g id="n-SLC25A15" class="hypo" transform="translate(754,517)"><use href="#vee"/><text class="lbl" y="3.2">SLC25A15</text></g>
<g id="n-SLC25A20" class="hypo" transform="translate(976,519)"><use href="#vee"/><text class="lbl" y="3.2">SLC25A20</text></g>
<g id="n-KATNB1" class="hypo" transform="translate(536,521)"><use href="#vee"/><text class="lbl" y="3.2">KATNB1</text></g>
<g id="n-PIGL" class="hypo" transform="translate(651,525)"><use href="#vee"/><text class="lbl" y="3.2">PIGL</text></g>
<g id="n-AKR1A1" class="hypo" transform="translate(850,538)"><use href="#vee"/><text class="lbl" y="3.2">AKR1A1</text></g>
<g id="n-RNF170" class="hypo" transform="translate(389,541)"><use href="#vee"/><text class="lbl" y="3.2">RNF170</text></g>
<g id="n-HADH" class="hypo" transform="translate(1073,546)"><use href="#vee"/><text class="lbl" y="3.2">HADH</text></g>
<g id="n-RPUSD1" class="hypo" transform="translate(621,558)"><use href="#vee"/><text class="lbl" y="3.2">RPUSD1</text></g>
<g id="n-SEC23IP" class="hypo" transform="translate(933,562)"><use href="#vee"/><text class="lbl" y="3.2">SEC23IP</text></g>
<g id="n-FTSJ3" class="hypo" transform="translate(554,566)"><use href="#vee"/><text class="lbl" y="3.2">FTSJ3</text></g>
<g id="n-MTFMT" class="hypo" transform="translate(711,571)"><use href="#vee"/><text class="lbl" y="3.2">MTFMT</text></g>
<g id="n-CCS" class="hypo" transform="translate(802,587)"><use href="#vee"/><text class="lbl" y="3.2">CCS</text></g>
<g id="n-RPS6KC1" class="hypo" transform="translate(893,596)"><use href="#vee"/><text class="lbl" y="3.2">RPS6KC1</text></g>
<g id="n-TRMT2A" class="hypo" transform="translate(561,608)"><use href="#vee"/><text class="lbl" y="3.2">TRMT2A</text></g>
<g id="n-MTF1" class="hypo" transform="translate(739,620)"><use href="#vee"/><text class="lbl" y="3.2">MTF1</text></g>
<g id="n-PHC1" class="hypo" transform="translate(868,630)"><use href="#vee"/><text class="lbl" y="3.2">PHC1</text></g>
</g>
<g id="legend">
<g class="hyper" transform="translate(998,43)"><use href="#tri"/></g>
<text class="leg" x="1027" y="52">Hypermethylated - Down regulated</text>
<g class="hypo" transform="translate(998,91)"><use href="#vee"/></g>
<text class="leg" x="1027" y="97">Hypomethylated - Up related</text>
</g>
<g id="caption">
<text class="capb" x="12" y="671">Fig. 3</text>
<text class="cap" x="63" y="671" textLength="1215" lengthAdjust="spacingAndGlyphs">The protein–protein interaction network of genes with opposite directions of expression and methylation levels. The blue triangle represents</text>
<text class="cap" x="12" y="697" textLength="897" lengthAdjust="spacingAndGlyphs">hypermethylated downregulated genes, the red triangle represents hypomethylated upregulated genes</text>
</g>
</svg>
